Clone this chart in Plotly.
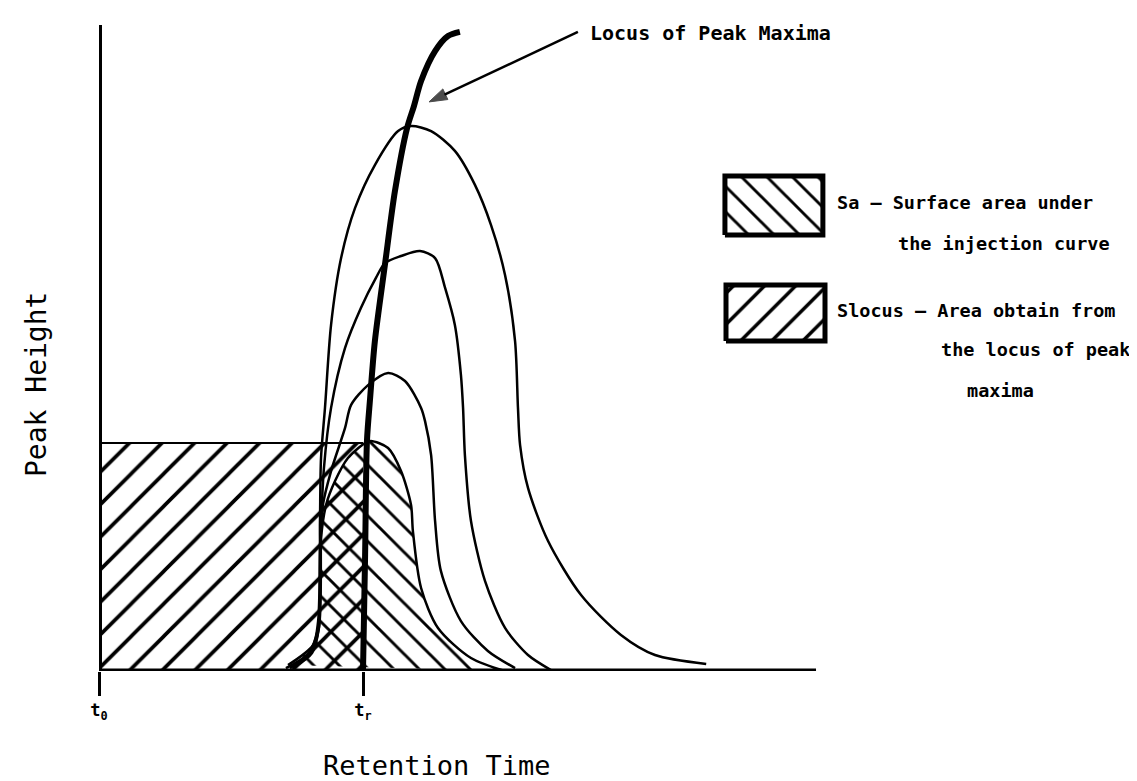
import plotly.graph_objects as go

# ---- data (chart units: t_r = 10, S_locus rectangle height = 100) ----
locus_x = [10.0, 10.08, 10.15, 10.27, 10.45, 10.83, 11.21, 11.67, 11.93, 12.2, 12.73, 13.22, 13.67]
locus_y = [0, 50.9, 100.9, 119.7, 144.7, 178.1, 210.5, 238.2, 247.8, 258.8, 271.9, 278.5, 280.3]

p4_x = [7.08, 7.92, 8.30, 8.37, 8.41, 8.56, 8.79, 9.17, 9.70, 10.45, 11.33, 11.82, 12.58, 13.48,
        14.24, 14.85, 15.38, 15.76, 15.87, 15.95, 16.25, 17.01, 18.26, 19.77, 21.06, 23.0]
p4_y = [1.3, 7.5, 18.9, 65.4, 93.4, 115.4, 151.8, 181.1, 203.1, 221.9, 236.8, 239.0, 236.8, 228.1,
        213.2, 195.6, 173.7, 144.7, 115.4, 99.1, 80.3, 57.0, 33.3, 15.8, 7.0, 3.1]

p3_x = [7.23, 7.99, 8.33, 8.41, 8.52, 8.79, 9.32, 9.92, 10.49, 10.83, 11.44, 12.16, 12.73, 13.11,
        13.48, 13.71, 13.79, 13.86, 14.09, 14.62, 15.38, 16.25, 17.12]
p3_y = [1.3, 7.5, 18.9, 62.7, 89.0, 115.4, 141.7, 159.2, 172.4, 178.9, 182.0, 184.2, 181.1, 168.0,
        151.8, 129.8, 115.4, 94.7, 65.8, 39.5, 18.9, 7.0, 0.4]

p2_x = [7.35, 8.07, 8.33, 8.37, 8.48, 8.79, 9.32, 9.55, 10.19, 10.95, 11.59, 12.20, 12.35, 12.58,
        12.73, 12.95, 13.71, 14.73, 15.76]
p2_y = [1.3, 7.9, 18.9, 53.9, 72.8, 87.7, 106.6, 116.7, 125.4, 130.7, 127.2, 115.4, 109.6, 94.7,
        65.8, 43.9, 21.9, 8.8, 1.3]

p1_x = [7.16, 8.11, 8.30, 8.41, 8.60, 8.94, 9.43, 10.08, 10.30, 10.95, 11.44, 11.82, 11.89, 12.20,
        12.84, 14.09, 15.38]
p1_y = [2.6, 11.4, 21.9, 58.3, 72.8, 83.3, 93.4, 100, 100.9, 97.8, 87.7, 72.8, 61.4, 36.4,
        18.9, 5.7, 0]

t0, tr = 0, 10
rect_height = 100
axis_x_end = 27.16
axis_y_end = 283.3
tick_vals = [t0, tr]
tick_text = ["<b>t<sub>0</sub></b>", "<b>t<sub>r</sub></b>"]

legend_box_sa_x = [23.71, 27.42]
legend_box_sa_y = [191.2, 217.1]
legend_box_sl_x = [23.75, 27.5]
legend_box_sl_y = [144.7, 169.3]

arrow_x = [18.14, 12.5]
arrow_y = [280.3, 249.6]

MONO = "DejaVu Sans Mono"

fig = go.Figure()

def pat(shape, size):
    return dict(shape=shape, size=size, solidity=0.16, fgcolor="black",
                bgcolor="rgba(0,0,0,0)", fillmode="replace")

NOLINE = dict(width=0, color="rgba(0,0,0,0)")

# S_locus rectangle (/ hatch)
fig.add_trace(go.Scatter(x=[t0, tr, tr, t0, t0], y=[0, 0, rect_height, rect_height, 0],
                         mode="lines", line=NOLINE,
                         fill="toself", fillcolor="rgba(0,0,0,0)", fillpattern=pat("/", 23)))
# Sa region under injection curve (\ hatch)
fig.add_trace(go.Scatter(x=p1_x, y=p1_y, mode="lines",
                         line=dict(width=0, color="rgba(0,0,0,0)", shape="spline", smoothing=0.8),
                         fill="toself", fillcolor="rgba(0,0,0,0)", fillpattern=pat("\\", 18)))
# rectangle top edge
fig.add_trace(go.Scatter(x=[t0, tr], y=[rect_height, rect_height], mode="lines",
                         line=dict(width=2, color="black")))

for px_, py_ in [(p1_x, p1_y), (p2_x, p2_y), (p3_x, p3_y), (p4_x, p4_y)]:
    fig.add_trace(go.Scatter(x=px_, y=py_, mode="lines",
                             line=dict(width=2.5, color="black", shape="spline", smoothing=0.8)))

# locus of peak maxima
fig.add_trace(go.Scatter(x=locus_x, y=locus_y, mode="lines",
                         line=dict(width=6, color="black", shape="spline", smoothing=0.8)))

# axes lines
fig.add_trace(go.Scatter(x=[t0, t0], y=[0, axis_y_end], mode="lines", line=dict(width=6, color="black")))
fig.add_trace(go.Scatter(x=[t0, axis_x_end], y=[0, 0], mode="lines", line=dict(width=5, color="black")))

# arrow pointing to the locus
fig.add_trace(go.Scatter(x=arrow_x, y=arrow_y, mode="lines+markers",
                         line=dict(width=2.5, color="black"),
                         marker=dict(symbol=["circle", "arrow"], size=[0, 19], color="black",
                                     angleref="previous", line=dict(width=1, color="black"))))

# legend boxes
for bx, by, shp, sz in [(legend_box_sa_x, legend_box_sa_y, "\\", 18),
                        (legend_box_sl_x, legend_box_sl_y, "/", 22)]:
    fig.add_trace(go.Scatter(x=[bx[0], bx[1], bx[1], bx[0], bx[0]],
                             y=[by[0], by[0], by[1], by[1], by[0]],
                             mode="lines", line=dict(width=5, color="black"),
                             fill="toself", fillcolor="rgba(0,0,0,0)", fillpattern=pat(shp, sz)))

annotations = [
    dict(x=27.88, y=205.3, text="<b>Sa – Surface area under</b>"),
    dict(x=30.19, y=187.7, text="<b>the injection curve</b>"),
    dict(x=27.88, y=158.3, text="<b>Slocus – Area obtain from</b>"),
    dict(x=31.80, y=140.8, text="<b>the locus of peak</b>"),
    dict(x=32.80, y=123.2, text="<b>maxima</b>"),
    dict(x=18.52, y=279.8, text="<b>Locus of Peak Maxima</b>", size=20),
]
for a in annotations:
    sz = a.pop("size", 18.5)
    a.update(xref="x", yref="y", xanchor="left", yanchor="middle", showarrow=False,
             font=dict(family=MONO, size=sz, color="black"))

W, H = 1137, 781
L, R, T, B = 91, 20, 10, 118

def px2paper(px, py):
    return (px - L) / (W - L - R), (H - B - py) / (H - T - B)

rx, ry = px2paper(429, 757)
annotations.append(dict(x=rx, y=ry, xref="paper", yref="paper", text="Retention Time",
                        xanchor="center", yanchor="middle", showarrow=False,
                        font=dict(family=MONO, size=27, color="black")))
hx, hy = px2paper(28, 377)
annotations.append(dict(x=hx, y=hy, xref="paper", yref="paper", text="Peak Height", textangle=-90,
                        xanchor="center", yanchor="middle", showarrow=False,
                        font=dict(family=MONO, size=28, color="black")))

fig.update_layout(
    width=W, height=H, margin=dict(l=L, r=R, t=T, b=B),
    paper_bgcolor="white", plot_bgcolor="white", showlegend=False,
    annotations=annotations,
    xaxis=dict(range=[0, (W - L - R) / 26.4], tickvals=tick_vals, ticktext=tick_text,
               ticks="outside", ticklen=24, tickwidth=2.5, tickcolor="black",
               showgrid=False, zeroline=False, showline=False,
               tickfont=dict(family=MONO, size=17, color="black")),
    yaxis=dict(range=[0, (H - T - B) / 2.28], showticklabels=False, ticks="",
               showgrid=False, zeroline=False, showline=False),
    hovermode=False,
)

fig.write_html("out.html")
